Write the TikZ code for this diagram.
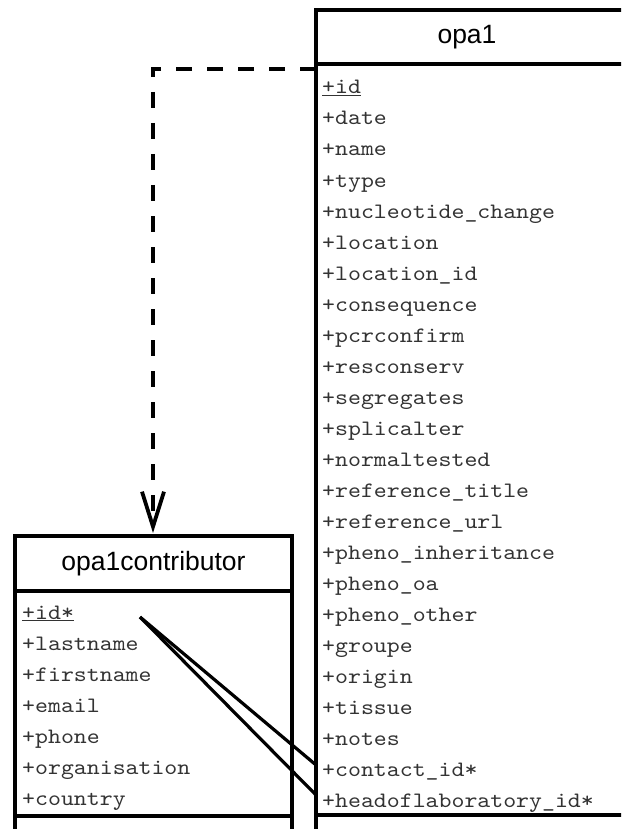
\documentclass[tikz,border=0pt]{standalone}
\usepackage{fontspec}
\setmainfont{Liberation Sans}
\newfontfamily\monof{lmmono10-regular.otf}[FakeStretch=1.12]
\usetikzlibrary{arrows.meta}
\begin{document}
\begin{tikzpicture}[x=1pt,y=-1pt,
  boxline/.style={line width=3.8pt},
  titletext/.style={font=\fontsize{26.5}{30}\selectfont, anchor=center, inner sep=0pt},
  attr/.style={font=\monof\fontsize{22}{26}\selectfont, text=black!80, anchor=base west, inner sep=0pt},
  link/.style={line width=3.2pt},
  dep/.style={line width=3.8pt, dash pattern=on 16pt off 15pt, -{Straight Barb[length=35pt,width=22pt]}}]
\useasboundingbox (0,0) rectangle (621,829);
\clip (0,0) rectangle (621,829);
% right class box
\draw[boxline] (316,845) -- (316,10) -- (650,10);
\draw[boxline] (316,64) -- (650,64);
\draw[boxline] (316,815) -- (650,815);
\node[titletext] (opa) at (467,37) {opa1};
\foreach \t [count=\i from 0] in {\underline{+id},+date,+name,+type,+nucleotide\_change,+location,+location\_id,+consequence,+pcrconfirm,+resconserv,+segregates,+splicalter,+normaltested,+reference\_title,+reference\_url,+pheno\_inheritance,+pheno\_oa,+pheno\_other,+groupe,+origin,+tissue,+notes,+contact\_id*,+headoflaboratory\_id*}
  \node[attr] (r\i) at (322,94+31*\i) {\t};
% left class box
\draw[boxline] (15,845) -- (15,536) -- (292,536) -- (292,845);
\draw[boxline] (15,591) -- (292,591);
\draw[boxline] (15,816) -- (292,816);
\node[titletext] (contrib) at (153.5,563.5) {opa1contributor};
\foreach \t [count=\i from 0] in {\underline{+id*},+lastname,+firstname,+email,+phone,+organisation,+country}
  \node[attr] (l\i) at (22,619+31*\i) {\t};
% connectors
\coordinate (src) at (140,617);
\coordinate (e1) at (316,765);
\coordinate (e2) at (316,795);
\draw[link] (src) -- (e1);
\draw[link] (src) -- (e2);
\coordinate (dstart) at (316,69);
\coordinate (dtip) at (153,533);
\draw[dep] (dstart) -| (dtip);
\end{tikzpicture}
\end{document}
